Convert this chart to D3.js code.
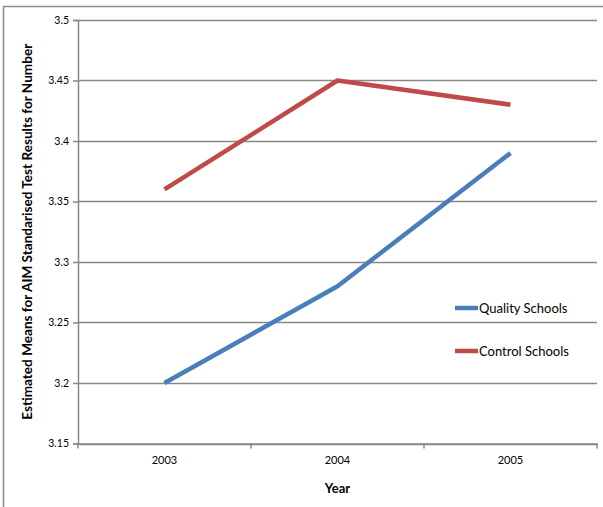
<!DOCTYPE html>
<html><head><meta charset="utf-8">
<script src="https://cdn.jsdelivr.net/npm/d3@7"></script>
<style>body{margin:0;background:#fff;} text{font-family:Lato,"Open Sans",sans-serif;}</style>
</head><body><svg id="c" width="603" height="507"></svg>
<script>
const years = ["2003","2004","2005"];
const quality = [3.20, 3.28, 3.39];
const control = [3.36, 3.45, 3.43];
const yTicks = [3.15,3.2,3.25,3.3,3.35,3.4,3.45,3.5];
const seriesNames = ["Quality Schools","Control Schools"];
const colors = ["#4A7EBB","#BE4B48"];

const svg = d3.select("#c");
svg.append("rect").attr("x",3.5).attr("y",6.5).attr("width",640).attr("height",540)
  .attr("fill","none").attr("stroke","#8c8c8c").attr("stroke-width",1.5);

const L=78,R=597,T=20,B=443.5;
const x = d3.scaleBand().domain(years).range([L,R]);
const y = d3.scaleLinear().domain([3.15,3.5]).range([B,T]);

svg.append("g").selectAll("line").data(yTicks).join("line")
  .attr("x1",L).attr("x2",R).attr("y1",d=>Math.round(y(d))+0.5).attr("y2",d=>Math.round(y(d))+0.5)
  .attr("stroke","#888").attr("stroke-width",1.5);

const ya = svg.append("g").attr("transform",`translate(${L},0)`)
  .call(d3.axisLeft(y).tickValues(yTicks).tickFormat(d=>String(d)).tickSize(5).tickPadding(4));
ya.select(".domain").attr("stroke","#888").attr("stroke-width",1.5);
ya.selectAll(".tick line").attr("stroke","#888").attr("stroke-width",1.5);
ya.selectAll("text").attr("font-size",10.5).attr("fill","#000").style("font-family","Lato, sans-serif");

const xa = svg.append("g").attr("transform",`translate(0,${B})`)
  .call(d3.axisBottom(x).tickSize(0).tickPadding(13));
xa.select(".domain").attr("stroke","#888").attr("stroke-width",1.5);
xa.selectAll("text").attr("font-size",11).attr("fill","#000").style("font-family","Lato, sans-serif");
const bounds = years.map(d=>x(d)).concat([R]);
svg.append("g").selectAll("line").data(bounds).join("line")
  .attr("x1",d=>d).attr("x2",d=>d).attr("y1",B).attr("y2",B+5)
  .attr("stroke","#888").attr("stroke-width",1.5);

const line = d3.line().x((d,i)=>x(years[i])+x.bandwidth()/2).y(d=>y(d));
[quality,control].forEach((s,i)=>{
  svg.append("path").datum(s).attr("d",line).attr("fill","none")
    .attr("stroke",colors[i]).attr("stroke-width",4.5).attr("stroke-linejoin","round");
});

const lg = svg.append("g");
[308,351].forEach((ly,i)=>{
  lg.append("line").attr("x1",455).attr("x2",478).attr("y1",ly).attr("y2",ly)
    .attr("stroke",colors[i]).attr("stroke-width",4.5);
  lg.append("text").attr("x",479).attr("y",ly+4.5).attr("font-size",13).text(seriesNames[i]);
});

svg.append("text").attr("x",x("2004")+x.bandwidth()/2).attr("y",493).attr("text-anchor","middle")
  .attr("font-size",13).attr("font-weight","bold").text("Year");
svg.append("text").attr("transform",`translate(32,${(T+B)/2}) rotate(-90)`).attr("text-anchor","middle")
  .attr("font-size",13).attr("font-weight","bold").attr("textLength",376).attr("lengthAdjust","spacingAndGlyphs")
  .text("Estimated Means for AIM Standarised Test Results for Number");
</script></body></html>
